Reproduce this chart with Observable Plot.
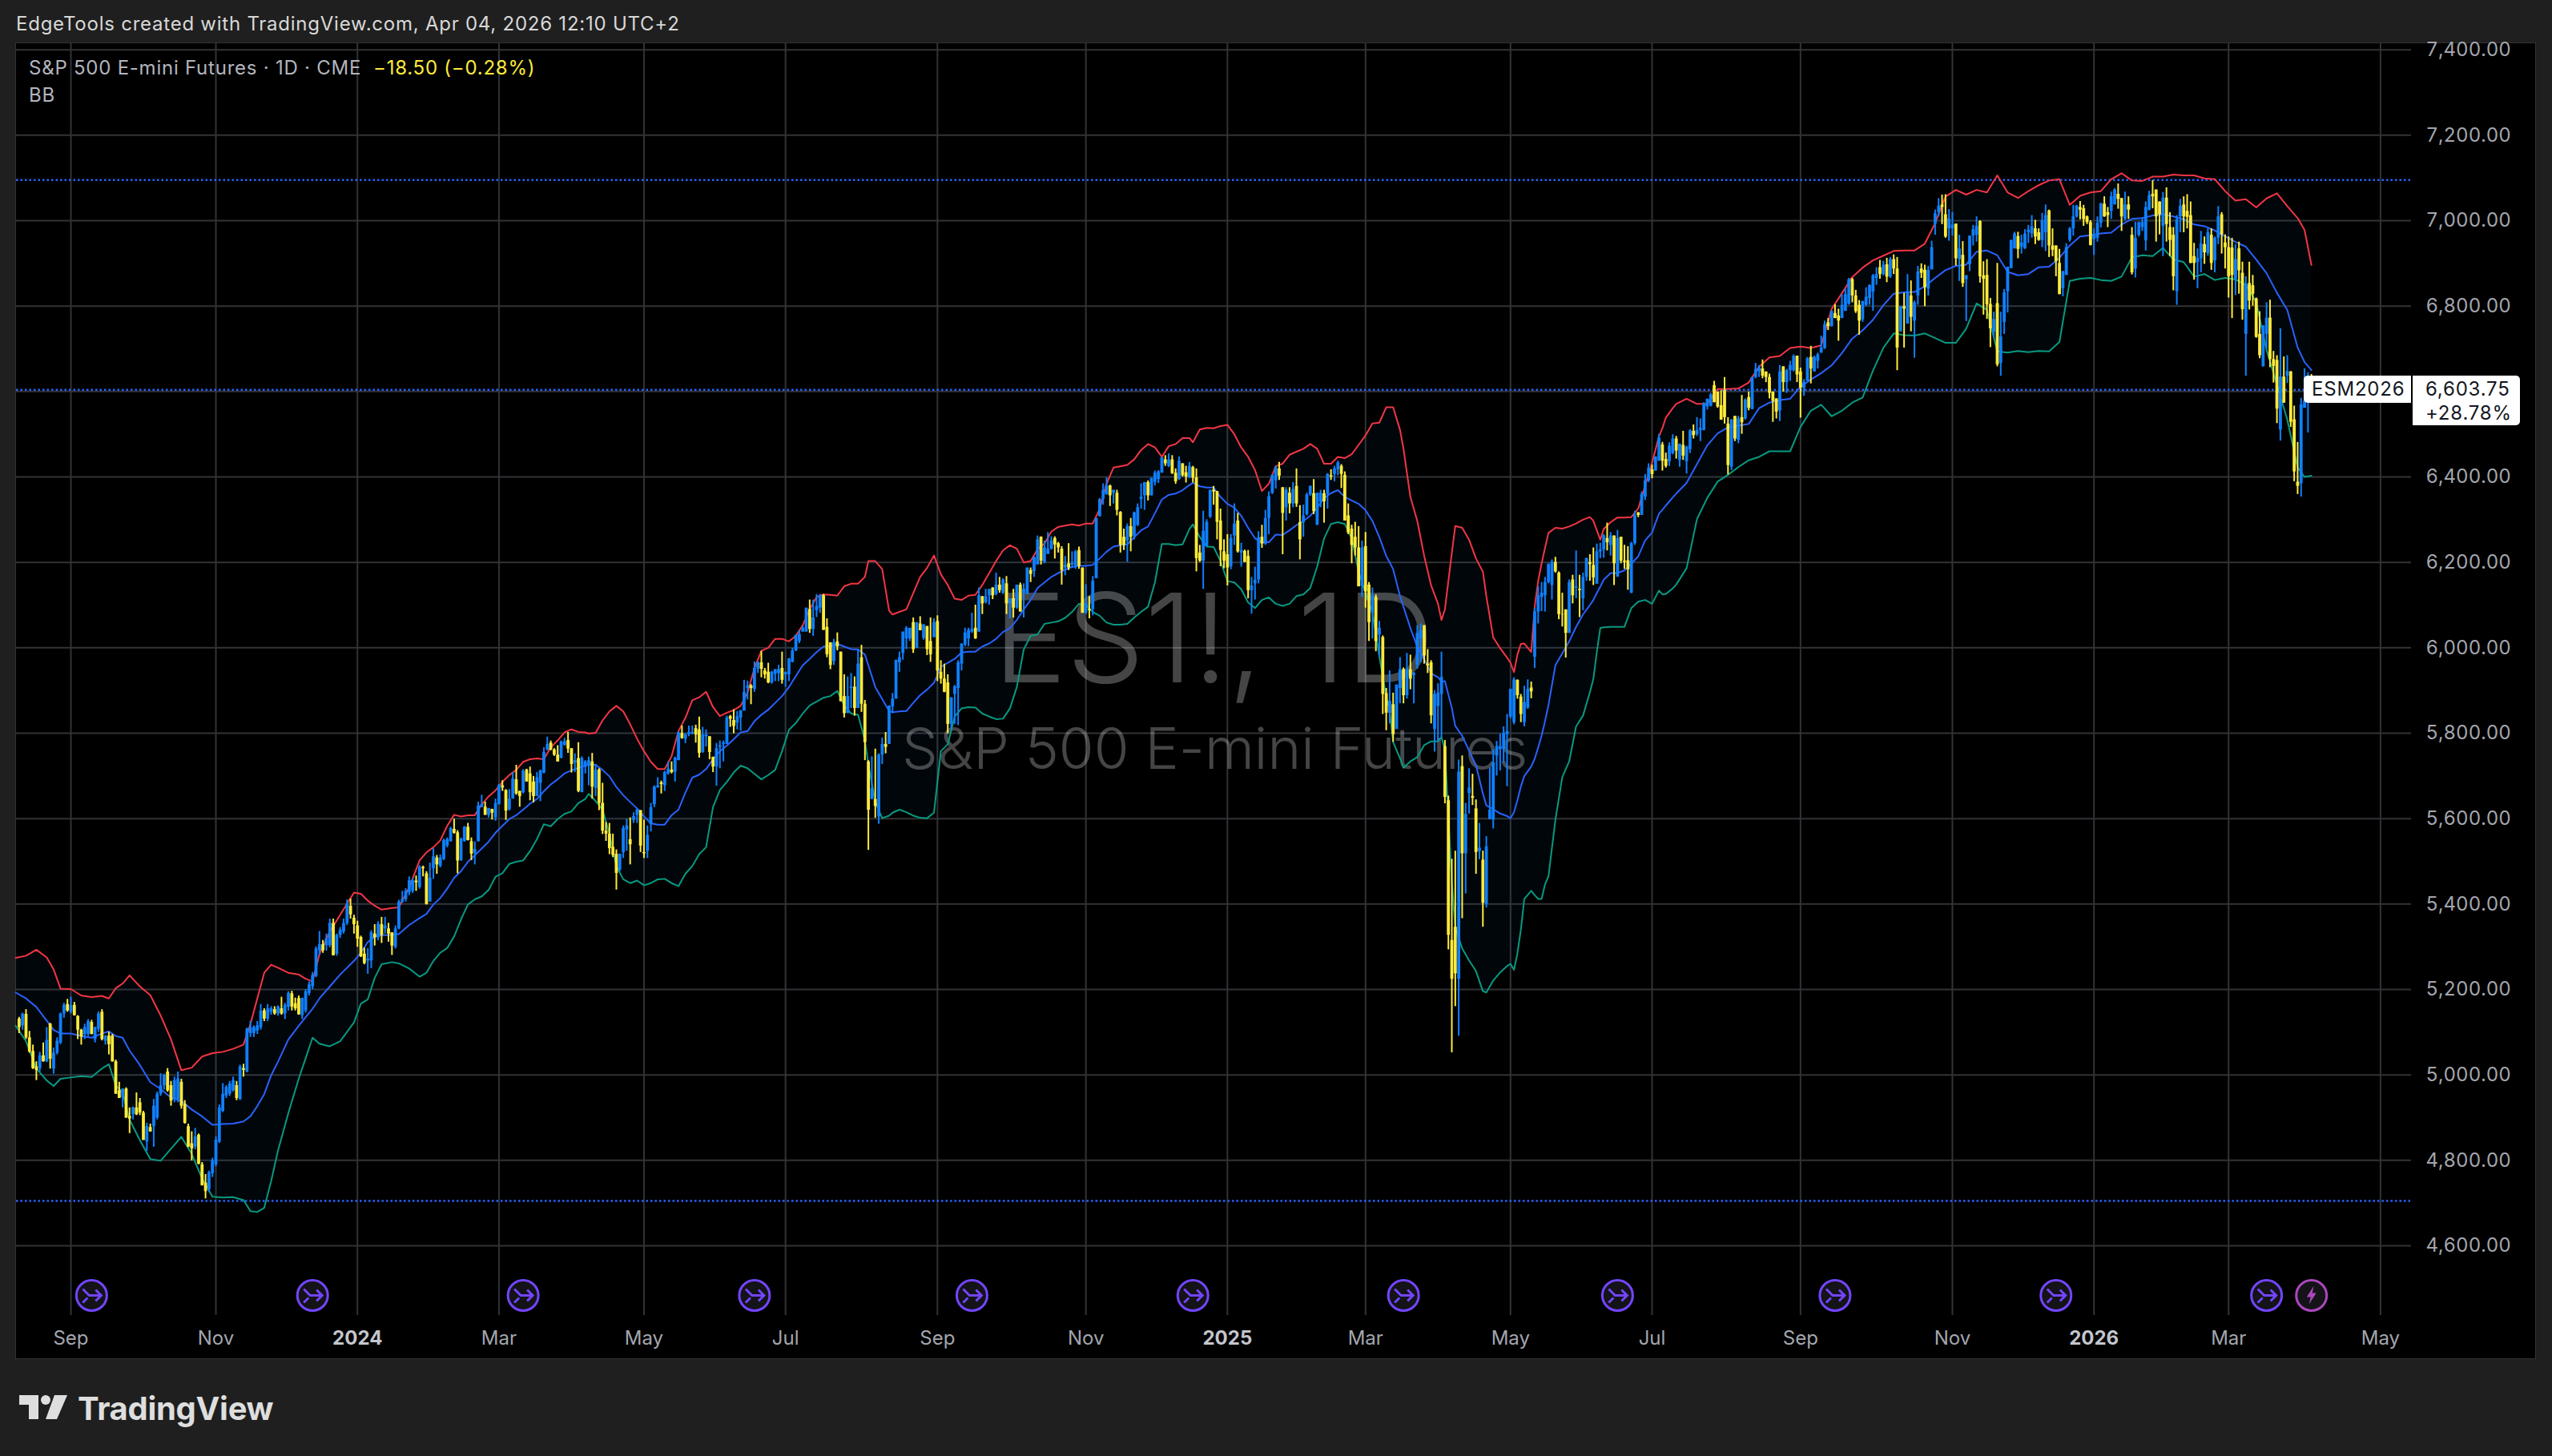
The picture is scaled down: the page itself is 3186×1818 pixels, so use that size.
<!DOCTYPE html>
<html>
<head>
<meta charset="utf-8">
<script src="https://cdn.jsdelivr.net/npm/d3@7"></script>
<script src="https://cdn.jsdelivr.net/npm/@observablehq/plot@0.6"></script>
<style>
html,body{margin:0;padding:0;background:#1f1f1f;width:3186px;height:1818px;overflow:hidden;font-family:Inter,"Liberation Sans",sans-serif}
#stage{position:relative;width:3186px;height:1818px}
#panel{position:absolute;left:19px;top:53px;width:3147px;height:1644px;background:#000;border:1px solid #333;box-sizing:border-box}
#chart{position:absolute;left:0;top:0}
.t{position:absolute;white-space:nowrap;font-size:24px;line-height:30px;letter-spacing:.76px}
.box{position:absolute;background:#fff;color:#131722;font-size:24px;line-height:29.5px;letter-spacing:.8px;box-sizing:border-box}
</style>
</head>
<body>
<div id="stage">
  <div id="panel"></div>
  <div id="chart"></div>
  <div class="t" style="left:20px;top:15px;color:#d8d8d8">EdgeTools created with TradingView.com, Apr 04, 2026 12:10 UTC+2</div>
  <div class="t" style="left:36px;top:70px;color:#b2b5be">S&amp;P 500 E-mini Futures · 1D · CME</div>
  <div class="t" style="left:466px;top:70px;color:#ffeb3b">−18.50 (−0.28%)</div>
  <div class="t" style="left:36px;top:104px;color:#b2b5be">BB</div>
  <div class="box" style="left:2876px;top:469px;width:134px;height:34px;border-radius:5px 0 0 5px;padding:2px 0 0 10px">ESM2026</div>
  <div class="box" style="left:3012px;top:469px;width:134px;height:62px;border-radius:0 5px 5px 0;padding:2px 0 0 16px">6,603.75<br>+28.78%</div>
  <svg style="position:absolute;left:24px;top:1742px" width="62" height="31" viewBox="0 0 62 31"><path fill="#dedede" d="M0 0H24V30H12V12H0ZM44 0H60L47 30H33Z"/><circle fill="#dedede" cx="33" cy="6" r="6"/></svg>
  <div class="t" style="left:97px;top:1735px;font-size:40px;line-height:48px;font-weight:700;color:#dedede;letter-spacing:-0.3px">TradingView</div>
</div>
<script>
// ---- Candles: [open, high, low, close], each list starts at the given trading-day index
const barsStart2023 = -15;
const bars2023 = [
[5131,5135,5097,5111],[5115,5145,5105,5142],[5142,5153,5083,5087],[5087,5102,5051,5054],[5055,5070,5013,5015],[5019,5031,4987,5011],[5015,5053,5007,5045],[5045,5075,5030,5031],[5031,5111,5029,5081],[5119,5121,5014,5037],[5014,5063,5002,5051],[5051,5087,5047,5079],[5075,5145,5071,5143],[5143,5168,5133,5163],[5165,5177,5147,5150],
[5147,5182,5143,5163],[5163,5170,5138,5139],[5137,5139,5083,5105],[5105,5107,5070,5089],[5094,5119,5083,5111],[5095,5130,5090,5125],[5123,5128,5094,5095],[5083,5112,5075,5111],[5107,5148,5100,5143],[5147,5153,5080,5083],[5079,5092,5070,5091],[5091,5100,5047,5071],[5091,5095,5030,5031],[5031,5035,4955,4955],[4963,4983,4945,4945],[4947,4967,4923,4967],[4967,4970,4899,4899],[4903,4923,4863,4897],[4907,4925,4895,4923],[4923,4958,4905,4907],[4935,4945,4905,4911],[4911,4915,4847,4847],[4843,4887,4821,4879],[4877,4885,4866,4867],[4879,4943,4831,4927],[4899,4960,4895,4955],[4955,5003,4950,4975],[4975,5002,4965,4999],[5007,5015,4960,4963],[4975,4985,4927,4939],[4943,4995,4935,4987],[4943,5007,4935,4991],[4983,4990,4920,4927],[4931,4940,4885,4887],[4879,4885,4830,4831],[4839,4867,4799,4827],[4831,4875,4825,4855],[4859,4862,4790,4791],[4790,4795,4740,4741],[4747,4767,4710,4727],[4731,4775,4725,4771],[4769,4805,4760,4799],[4790,4855,4785,4847],[4843,4930,4840,4923],[4915,4980,4912,4955],[4951,4975,4945,4971],[4955,4985,4950,4979],[4963,4995,4960,4987],[4975,4985,4940,4945],[4943,5023,4940,5019],[5015,5025,4995,5011],[5007,5110,5005,5107],[5097,5126,5088,5111],[5097,5115,5088,5111],[5103,5125,5095,5115],[5111,5165,5105,5150],[5150,5155,5125,5131],[5131,5165,5125,5155],[5147,5160,5140,5155],[5153,5160,5140,5143],[5143,5162,5138,5159],[5155,5182,5140,5143],[5143,5168,5130,5163],[5159,5195,5150,5191],[5190,5196,5150,5159],[5167,5180,5150,5155],[5179,5185,5140,5141],[5139,5180,5130,5179],[5150,5200,5145,5195],[5191,5218,5185,5211],[5207,5240,5200,5233],[5231,5300,5228,5295],[5291,5336,5280,5305],[5305,5315,5285,5291],[5303,5330,5290,5319],[5303,5365,5298,5355],[5355,5365,5280,5279],[5283,5330,5278,5327],[5327,5345,5320,5339],[5335,5365,5330,5355],[5355,5410,5350,5400],[5395,5412,5365,5375]];

const barsStart2024a = 82;
const bars2024a = [
[5367,5374,5330,5352],[5349,5360,5299,5318],[5322,5325,5275,5277],[5283,5297,5258,5261],[5267,5296,5236,5271],[5267,5338,5249,5333],[5330,5352,5302,5321],[5321,5359,5314,5353],[5352,5369,5308,5327],[5342,5369,5330,5349],[5342,5355,5311,5330],[5333,5333,5280,5302],[5299,5349,5295,5342],[5342,5409,5340,5405],[5405,5430,5402,5411],[5411,5436,5405,5430],[5427,5464,5420,5455],[5430,5460,5425,5455],[5454,5466,5430,5450],[5439,5490,5435,5486],[5486,5489,5464,5483],[5471,5476,5398,5399],[5405,5496,5405,5461],[5483,5530,5458,5511],[5508,5514,5470,5492],[5489,5515,5485,5508],[5505,5552,5502,5549],[5536,5555,5532,5551],[5546,5580,5546,5577],[5575,5599,5564,5566],[5567,5572,5471,5501],[5502,5555,5500,5552],[5547,5582,5545,5580],[5580,5589,5548,5549],[5546,5555,5502,5517],[5519,5546,5492,5528],[5546,5639,5546,5630],[5626,5655,5626,5633],[5627,5639,5608,5608],[5608,5624,5602,5624],[5622,5622,5597,5613],[5602,5646,5594,5636],[5633,5680,5632,5678],[5677,5689,5664,5672],[5666,5668,5596,5618],[5621,5668,5618,5646],[5646,5708,5646,5693],[5691,5725,5655,5658],[5664,5664,5627,5652],[5661,5715,5658,5711],[5714,5716,5686,5686],[5705,5721,5642,5661],[5686,5699,5637,5652],[5652,5708,5652,5696],[5683,5714,5640,5712],[5707,5766,5705,5755],[5761,5791,5759,5774],[5777,5782,5759,5761],[5761,5764,5746,5749],[5749,5771,5733,5733],[5741,5782,5741,5780],[5772,5788,5770,5780],[5783,5802,5753,5763],[5764,5764,5707,5727],[5730,5752,5708,5736],[5741,5778,5661,5664],[5661,5745,5661,5741],[5721,5736,5705,5733],[5724,5744,5677,5736],[5733,5753,5646,5674],[5671,5727,5652,5714],[5714,5717,5619,5636],[5636,5683,5563,5571],[5571,5591,5547,5564],[5564,5589,5516,5530],[5533,5564,5509,5514],[5517,5527,5433,5472],[5480,5517,5476,5517],[5521,5583,5507,5577],[5574,5599,5524,5583],[5551,5602,5492,5539],[5596,5614,5589,5605],[5608,5622,5589,5621],[5619,5619,5521,5536],[5521,5597,5507,5518],[5524,5583,5507,5561],[5586,5636,5569,5626],[5633,5677,5626,5674],[5672,5696,5672,5677],[5684,5688,5658,5680],[5677,5711,5664,5708],[5705,5733,5702,5716],[5714,5733,5705,5708],[5709,5744,5686,5742],[5736,5803,5736,5801],[5800,5817,5786,5788],[5786,5799,5776,5797],[5797,5817,5792,5802],[5799,5817,5796,5802],[5811,5819,5777,5796],[5808,5838,5742,5753],[5755,5814,5753,5796],[5792,5808,5768,5796],[5792,5792,5738,5755],[5744,5744,5708,5721],[5721,5776,5676,5764],[5767,5782,5717,5771],[5774,5782,5733,5777],[5774,5840,5774,5836],[5839,5842,5814,5833],[5830,5855,5799,5816],[5824,5851,5808,5839],[5836,5853,5805,5853],[5852,5924,5852,5896],[5905,5922,5878,5911],[5911,5914,5867,5905]];

const barsStart2024b = 198;
const bars2024b = [
[5903,5967,5896,5952],[5950,5967,5940,5965],[5965,5992,5930,5950],[5946,5952,5927,5937],[5943,5964,5916,5918],[5918,5945,5915,5943],[5938,5949,5921,5949],[5940,5959,5921,5949],[5952,5990,5915,5924],[5937,5943,5908,5943],[5937,5975,5921,5974],[5966,5999,5965,5993],[5993,6031,5991,6029],[6015,6040,6010,6031],[6037,6050,6037,6046],[6037,6093,6037,6093],[6090,6112,6034,6043],[6043,6112,6027,6070],[6087,6125,6071,6097],[6093,6125,6081,6122],[6122,6125,6041,6041],[6048,6068,5977,5984],[6012,6012,5949,5959],[5968,6020,5959,6012],[6014,6035,5993,6002],[5990,5990,5874,5874],[5886,5937,5836,5846],[5846,5932,5850,5886],[5905,5940,5858,5908],[5908,5932,5840,5858],[5858,5996,5858,5962],[5977,6006,5849,5868],[5868,5877,5736,5778],[5733,5736,5526,5620],[5645,5745,5645,5670],[5645,5763,5601,5629],[5604,5752,5587,5749],[5749,5789,5727,5774],[5774,5802,5752,5767],[5774,5864,5774,5864],[5862,5893,5846,5880],[5880,5971,5880,5971],[5965,5990,5943,5977],[5987,6037,5971,6037],[6021,6050,5996,6046],[6021,6046,6015,6046],[6059,6070,5987,5996],[5999,6059,5999,6059],[6056,6073,6040,6040],[6022,6054,6018,6054],[6050,6050,5982,5996],[6015,6070,5966,5984],[6024,6068,6024,6059],[6062,6075,5921,5946],[5943,5970,5915,5927],[5927,5962,5895,5896],[5918,5937,5799,5821],[5821,5883,5808,5883],[5891,5912,5821,5909],[5905,5970,5818,5965],[5962,6009,5946,6009],[6007,6046,6003,6035],[6021,6046,6003,6041],[6037,6081,6034,6043],[6046,6100,6020,6021],[6037,6140,6037,6122],[6120,6120,6078,6103],[6106,6137,6103,6120],[6122,6137,6100,6137],[6140,6141,6113,6122],[6125,6175,6122,6147],[6147,6165,6128,6134],[6128,6162,6125,6159],[6150,6167,6078,6103],[6103,6115,6068,6115],[6115,6137,6070,6093],[6093,6147,6090,6147],[6147,6152,6084,6084],[6128,6150,6070,6137],[6125,6187,6125,6187],[6181,6187,6153,6172],[6179,6212,6165,6212],[6194,6262,6194,6253],[6259,6260,6194,6203],[6200,6250,6197,6234],[6219,6270,6219,6231],[6231,6260,6229,6250],[6256,6260,6208,6241],[6244,6247,6222,6234],[6231,6237,6147,6181],[6187,6214,6169,6194],[6197,6244,6181,6187],[6194,6225,6186,6198],[6191,6228,6184,6225],[6228,6236,6184,6191],[6187,6187,6081,6081],[6081,6148,6078,6103],[6090,6120,6068,6087],[6090,6167,6075,6156],[6162,6303,6162,6303]];

const barsStart2025a = 298;
const bars2025a = [
[6307,6350,6307,6347],[6348,6384,6334,6369],[6358,6398,6358,6379],[6379,6381,6331,6356],[6362,6369,6337,6369],[6362,6369,6309,6322],[6317,6319,6222,6240],[6259,6278,6228,6240],[6250,6290,6200,6284],[6284,6303,6225,6259],[6262,6318,6253,6316],[6287,6337,6284,6328],[6347,6384,6325,6353],[6356,6387,6322,6387],[6387,6391,6344,6356],[6356,6397,6356,6397],[6387,6414,6379,6409],[6394,6415,6385,6412],[6409,6446,6409,6445],[6440,6450,6425,6431],[6425,6454,6422,6440],[6440,6450,6406,6408],[6409,6419,6383,6389],[6394,6447,6392,6437],[6431,6431,6400,6403],[6410,6425,6386,6400],[6398,6434,6396,6425],[6422,6425,6386,6397],[6398,6419,6178,6209],[6222,6240,6200,6203],[6203,6320,6137,6273],[6237,6300,6237,6294],[6306,6369,6303,6369],[6369,6378,6334,6365],[6366,6366,6253,6294],[6297,6325,6190,6228],[6225,6253,6185,6203],[6218,6265,6145,6187],[6190,6265,6183,6256],[6262,6337,6240,6290],[6297,6315,6222,6225],[6222,6245,6189,6228],[6226,6229,6200,6200],[6214,6228,6115,6134],[6134,6165,6079,6145],[6150,6189,6112,6158],[6159,6272,6150,6258],[6259,6287,6233,6243],[6243,6322,6240,6303],[6303,6365,6265,6354],[6362,6406,6359,6403],[6391,6425,6372,6422],[6419,6434,6392,6402],[6375,6375,6218,6315],[6328,6375,6297,6369],[6362,6375,6314,6337],[6337,6387,6328,6371],[6378,6419,6329,6337],[6293,6333,6206,6253],[6293,6334,6259,6309],[6312,6362,6309,6358],[6358,6379,6355,6378],[6361,6394,6312,6319],[6287,6362,6287,6362],[6341,6369,6328,6362],[6361,6369,6292,6342],[6360,6408,6325,6406],[6403,6417,6392,6400],[6406,6425,6389,6419],[6417,6437,6403,6433],[6425,6429,6373,6406],[6404,6412,6297,6297],[6309,6337,6265,6269],[6278,6287,6197,6240],[6259,6294,6215,6234],[6234,6284,6143,6143],[6144,6250,6118,6234],[6237,6270,6093,6131],[6147,6153,6015,6059],[6081,6140,6021,6122],[6118,6124,5991,6015],[6030,6062,5977,6046],[6024,6028,5844,5891]];

const barsStart2025b = 381;
const bars2025b = [
[5893,5905,5806,5847],[5847,5946,5822,5875],[5867,5894,5779,5797],[5809,5913,5809,5913],[5905,5977,5869,5949],[5949,5953,5869,5888],[5888,5987,5880,5949],[5949,5983,5902,5927],[5935,5943,5869,5940],[5959,6052,5950,6034],[6021,6056,5965,6040],[6052,6052,5962,5981],[5962,5996,5940,5958],[5965,5970,5822,5841],[5809,5900,5756,5891],[5863,5916,5781,5894],[5891,5990,5790,5931],[5769,5783,5635,5650],[5642,5653,5293,5327],[5315,5505,5052,5224],[5346,5524,5160,5237],[5224,5737,5091,5709],[5722,5747,5366,5518],[5518,5636,5424,5610],[5659,5717,5611,5672],[5652,5704,5631,5648],[5623,5644,5470,5521],[5523,5589,5504,5531],[5503,5524,5346,5402],[5399,5558,5391,5534],[5598,5719,5598,5620],[5597,5761,5576,5731],[5747,5781,5700,5769],[5762,5798,5712,5769],[5762,5815,5731,5800],[5797,5844,5675,5804],[5838,5903,5834,5903],[5825,5930,5820,5925],[5924,5925,5880,5888],[5885,5891,5825,5844],[5825,5910,5815,5872],[5859,5925,5856,5903],[5906,5920,5881,5897],[5978,6093,5952,6084],[6084,6143,6056,6122],[6118,6153,6085,6128],[6122,6165,6084,6153],[6153,6197,6150,6195],[6146,6206,6112,6200],[6200,6212,6175,6178],[6175,6178,6066,6078],[6078,6128,6049,6077],[6089,6089,5976,6034],[6034,6159,6034,6153],[6159,6170,6103,6122],[6140,6227,6115,6143],[6137,6170,6071,6134],[6115,6175,6087,6165],[6165,6210,6156,6209],[6200,6218,6156,6195],[6193,6234,6146,6164],[6149,6243,6149,6225],[6225,6245,6209,6229],[6229,6265,6210,6262],[6256,6292,6227,6246],[6240,6270,6215,6262],[6262,6262,6146,6197],[6166,6275,6165,6256],[6259,6259,6197,6203],[6203,6240,6184,6200],[6204,6237,6135,6183],[6128,6247,6127,6244],[6244,6320,6240,6311],[6316,6317,6305,6310],[6310,6365,6310,6359],[6353,6406,6345,6391],[6391,6431,6387,6421],[6417,6428,6396,6406],[6414,6447,6414,6447],[6437,6500,6437,6491],[6475,6481,6414,6437],[6441,6456,6421,6425]];

const barsStart2025c = 463;
const bars2025c = [
[6436,6480,6425,6472],[6455,6499,6452,6489],[6489,6495,6442,6461],[6439,6477,6423,6477],[6474,6507,6439,6449],[6436,6472,6407,6470],[6464,6511,6455,6508],[6507,6522,6489,6497],[6499,6539,6495,6509],[6509,6536,6483,6514],[6509,6574,6508,6571],[6564,6583,6557,6582],[6566,6596,6564,6592],[6614,6624,6574,6574],[6599,6599,6561,6564],[6567,6602,6533,6533],[6602,6633,6524,6539],[6524,6539,6405,6427],[6423,6534,6415,6534],[6542,6542,6483,6489],[6486,6542,6478,6536],[6539,6591,6500,6527],[6536,6583,6533,6580],[6586,6599,6555,6561],[6558,6633,6558,6633],[6633,6666,6630,6652],[6646,6661,6633,6655],[6653,6674,6630,6636],[6646,6646,6621,6633],[6633,6641,6583,6596],[6599,6599,6528,6577],[6583,6583,6536,6552],[6555,6661,6530,6646],[6658,6658,6599,6621],[6621,6652,6596,6649],[6649,6671,6624,6661],[6649,6686,6646,6682],[6683,6683,6621,6639],[6646,6655,6538,6608],[6608,6628,6589,6621],[6624,6680,6624,6677],[6680,6706,6618,6653],[6646,6683,6646,6680],[6671,6690,6653,6686],[6690,6730,6690,6702],[6701,6765,6699,6757],[6761,6771,6743,6752],[6752,6788,6751,6788],[6783,6803,6771,6771],[6777,6793,6718,6765],[6771,6827,6771,6802],[6788,6840,6788,6827],[6805,6865,6802,6862],[6862,6865,6808,6824],[6824,6837,6783,6787],[6802,6813,6732,6765],[6768,6811,6762,6811],[6802,6843,6799,6821],[6818,6849,6802,6849],[6833,6874,6788,6871],[6865,6890,6849,6874],[6890,6907,6863,6874],[6874,6905,6871,6896],[6897,6912,6855,6868],[6868,6914,6865,6909],[6909,6920,6874,6887],[6887,6914,6649,6702],[6740,6799,6740,6799],[6799,6830,6702,6793],[6758,6874,6758,6833],[6824,6859,6740,6774],[6765,6812,6678,6808],[6824,6893,6802,6880],[6887,6899,6865,6877],[6884,6896,6799,6843],[6840,6893,6824,6884],[6885,6952,6885,6937]];

const barsStart2026 = 540;
const bars2026 = [
[6992,7025,6966,7016],[7019,7052,7009,7034],[7037,7060,6991,7031],[7014,7061,6959,6962],[6981,7026,6952,7004],[6981,7019,6964,6990],[6992,6992,6894,6911],[6909,6966,6858,6934],[6919,6951,6844,6853],[6862,6872,6764,6871],[6897,6964,6881,6964],[6964,6989,6941,6979],[6966,7009,6950,6987],[6998,7000,6854,6869],[6871,6904,6779,6863],[6872,6909,6769,6803],[6804,6818,6703,6747],[6739,6786,6724,6769],[6806,6900,6658,6663],[6666,6786,6636,6728],[6762,6839,6734,6831],[6834,6891,6784,6891],[6888,6954,6888,6954],[6934,6973,6934,6969],[6963,6973,6911,6933],[6938,6966,6922,6948],[6934,6979,6933,6969],[6972,6989,6947,6978],[6969,7012,6959,6986],[6981,7001,6944,6962],[6972,6981,6952,6954],[6953,7017,6937,7000],[6972,7037,6928,7012],[7023,7025,6914,6941],[6941,6981,6916,6931],[6941,6941,6869,6904],[6900,6933,6827,6827],[6841,6881,6822,6881],[6872,6946,6872,6937],[6954,6984,6950,6981],[6981,7036,6964,7009],[7009,7036,7006,7034],[7031,7045,7002,7025],[7028,7036,6987,7003],[7009,7011,6991,6996],[6996,7000,6941,6942],[6956,6981,6919,6967],[6959,7009,6950,6994],[6994,7041,6983,7039],[7039,7056,7008,7009],[7019,7031,6984,7012],[7022,7067,7003,7056],[7037,7075,7037,7072],[7062,7086,7027,7050],[7052,7052,6975,7009],[7003,7067,7000,7037],[7037,7056,7003,7025],[6966,6984,6873,6878],[6887,6996,6866,6959],[6966,6996,6962,6996],[6984,7006,6975,6996],[6953,7044,6929,7031],[7025,7069,7023,7059],[7062,7094,7028,7056],[7072,7072,6950,7009],[7044,7044,6967,7014],[6987,7066,6916,7053],[7053,7077,6950,6991],[6984,7019,6916,6954],[6966,6984,6836,6869],[6834,7012,6802,7003],[7009,7050,6972,7034],[7037,7056,6972,7009],[7022,7061,6981,7008],[7012,7044,6900,6900],[6916,6947,6861,6900],[6902,6934,6841,6912],[6911,6975,6878,6946],[6944,6962,6898,6925],[6923,6981,6917,6972],[6966,6981,6884,6900],[6906,6962,6878,6959],[6959,7033,6944,7009],[7014,7019,6922,6967],[6948,6967,6887,6937],[6937,6962,6819,6869],[6936,6959,6771,6872],[6862,6944,6825,6909],[6934,6950,6828,6883],[6877,6903,6767,6792],[6734,6869,6636,6852],[6853,6903,6791,6812],[6848,6872,6800,6828],[6817,6819,6725,6727],[6734,6787,6677,6684],[6658,6754,6658,6754],[6734,6808,6700,6772],[6772,6814,6656,6675],[6675,6694,6620,6659],[6673,6684,6525,6559],[6510,6747,6484,6634],[6634,6681,6573,6573],[6636,6684,6619,6647],[6646,6647,6516,6528],[6534,6566,6389,6412],[6388,6481,6359,6378],[6384,6584,6353,6569],[6561,6653,6561,6578],[6590,6644,6503,6622.25],[6620,6640,6600,6603.75]];

// ---- Bollinger bands: [day index, upper, basis, lower]
const bollinger = [
[-16,5274,5193,5115],[-13,5279,5179,5079],[-10,5293,5159,5015],[-7,5275,5127,4987],[-5,5247,5105,4974],[-3,5202,5097,4991],[0,5201,5097,4994],[3,5186,5091,4997],[6,5182,5087,4995],[9,5185,5097,5015],[11,5179,5102,5025],[13,5203,5091,4975],[15,5214,5087,4959],[17,5233,5057,4895],[20,5207,5023,4847],[23,5187,4983,4803],[26,5139,4967,4799],[29,5083,4947,4827],[32,5011,4939,4855],[35,5017,4919,4815],[38,5043,4903,4758],[41,5051,4883,4715],[44,5054,4885,4713],[47,5061,4886,4714],[50,5071,4891,4707],[52,5119,4903,4681],[54,5179,4927,4679],[56,5239,4955,4689],[58,5258,4999,4751],[60,5251,5031,4823],[63,5239,5083,4911],[66,5235,5115,4991],[68,5225,5135,5039],[70,5219,5155,5087],[72,5283,5179,5073],[75,5335,5207,5067],[78,5375,5235,5079],[82,5427,5267,5123],[84,5424,5286,5167],[86,5408,5311,5177],[88,5396,5324,5227],[90,5387,5327,5259],[93,5391,5328,5264],[95,5392,5330,5261],[98,5439,5351,5249],[101,5502,5367,5230],[103,5521,5377,5239],[105,5533,5399,5267],[107,5549,5414,5286],[109,5583,5436,5297],[111,5609,5461,5324],[113,5605,5477,5364],[115,5608,5499,5399],[117,5608,5514,5411],[119,5633,5530,5418],[121,5652,5546,5433],[123,5666,5567,5464],[125,5686,5583,5472],[127,5702,5599,5494],[129,5714,5608,5499],[131,5733,5621,5502],[133,5739,5635,5524],[135,5741,5646,5552],[137,5739,5664,5587],[139,5767,5680,5582],[141,5783,5692,5599],[143,5802,5706,5611],[145,5809,5713,5617],[147,5803,5719,5636],[149,5802,5724,5646],[150,5799,5727,5658],[152,5801,5726,5641],[154,5830,5714,5621],[156,5851,5699,5564],[158,5864,5674,5489],[160,5851,5655,5458],[162,5821,5639,5449],[164,5787,5624,5455],[166,5758,5605,5444],[168,5733,5589,5449],[170,5716,5586,5458],[172,5716,5586,5459],[174,5746,5608,5449],[176,5805,5621,5442],[178,5836,5661,5471],[180,5877,5696,5489],[182,5884,5703,5517],[184,5897,5716,5533],[186,5861,5739,5627],[188,5840,5758,5667],[190,5848,5771,5686],[192,5854,5786,5708],[194,5864,5802,5724],[196,5895,5805,5718],
[198,5952,5828,5705],[200,5993,5843,5692],[202,6000,5855,5702],[204,6021,5871,5714],[206,6021,5887,5758],[208,6015,5908,5808],[210,6028,5934,5824],[212,6053,5959,5846],[214,6090,5974,5865],[216,6119,5990,5874],[218,6125,6003,5883],[220,6124,6004,5887],[222,6122,6009,5899],[224,6144,6003,5865],[226,6150,5997,5846],[228,6150,5996,5843],[230,6166,5984,5783],[231,6203,5959,5727],[233,6203,5908,5639],[235,6184,5880,5601],[237,6087,5852,5607],[238,6078,5849,5614],[240,6084,5851,5621],[242,6090,5852,5615],[244,6128,5871,5607],[246,6166,5889,5602],[248,6187,5902,5601],[250,6216,5918,5614],[252,6172,5955,5758],[254,6147,5965,5774],[256,6115,5974,5839],[258,6112,5989,5858],[260,6122,5991,5861],[262,6124,5991,5860],[264,6147,6003,5846],[266,6175,6010,5839],[268,6203,6021,5833],[270,6228,6037,5834],[272,6240,6046,5858],[274,6232,6065,5908],[276,6200,6090,5996],[278,6203,6112,6028],[280,6231,6140,6031],[282,6244,6153,6056],[284,6272,6166,6059],[286,6283,6175,6062],[288,6286,6183,6070],[290,6289,6189,6084],[292,6286,6192,6103],[294,6291,6192,6100],[296,6291,6194,6084],[298,6325,6209,6075],
[300,6384,6225,6059],[302,6422,6237,6054],[304,6425,6240,6054],[306,6428,6242,6056],[308,6441,6259,6071],[310,6463,6275,6084],[312,6477,6284,6096],[314,6469,6315,6153],[316,6447,6347,6243],[318,6472,6358,6243],[320,6477,6361,6240],[322,6491,6369,6242],[324,6491,6381,6278],[325,6481,6386,6289],[327,6511,6378,6259],[329,6515,6375,6237],[331,6514,6375,6236],[333,6519,6353,6203],[335,6522,6337,6156],[337,6500,6328,6153],[339,6469,6309,6137],[341,6447,6281,6106],[343,6416,6256,6093],[345,6367,6247,6112],[347,6384,6247,6118],[349,6425,6265,6103],[351,6431,6264,6098],[353,6452,6275,6103],[355,6459,6287,6121],[357,6466,6297,6125],[359,6477,6309,6140],[361,6466,6328,6190],[363,6431,6350,6256],[365,6431,6362,6290],[367,6447,6369,6294],[369,6444,6353,6290],[371,6453,6345,6256],[373,6475,6337,6178],[375,6497,6322,6128],[377,6525,6297,6084],[379,6527,6259,5980],[381,6563,6215,5885],[382,6563,6200,5853],[383,6563,6184,5779],[385,6510,6121,5741],[386,6466,6096,5719],[388,6353,6046,5734],[390,6297,6002,5744],[392,6215,5974,5772],[394,6146,5940,5781],[396,6103,5931,5781],[397,6065,5921,5791],[398,6090,5922,5760],[400,6222,5859,5453],[401,6285,5817,5346],[403,6281,5794,5296],[405,6253,5759,5268],[407,6209,5725,5243],[409,6178,5659,5196],[410,6121,5631,5193],[412,6024,5622,5221],[414,5999,5612,5240],[416,5977,5606,5255],[417,5965,5601,5260],[418,5943,5615,5246],[419,5984,5643,5284],[420,6009,5675,5340],[421,6010,5700,5412],[423,5990,5722,5431],[424,6096,5740,5421],[425,6156,5766,5412],[426,6197,5794,5412],[427,6234,5828,5446],[428,6269,5866,5465],[430,6281,5959,5597],[432,6279,5987,5697],[434,6284,6015,5734],[436,6291,6049,5816],[438,6300,6078,5841],[440,6306,6100,5896],[441,6297,6112,5927],[442,6275,6128,5990],[443,6253,6143,6046],[444,6278,6159,6048],[446,6294,6175,6049],[448,6305,6175,6049],[450,6305,6181,6049],[452,6306,6197,6093],[454,6326,6214,6108],[456,6380,6251,6112],[458,6433,6270,6103],[460,6495,6314,6134],[461,6514,6323,6125],[462,6539,6333,6126],[464,6561,6352,6139],[465,6571,6361,6148],[468,6583,6386,6186],[471,6571,6430,6301],[474,6571,6474,6351],[477,6606,6502,6389],[480,6606,6516,6405],[483,6607,6520,6423],[486,6621,6524,6439],[489,6658,6561,6447],[492,6680,6574,6460],[495,6683,6580,6460],[498,6702,6583,6460],[501,6705,6611,6517],[504,6702,6628,6555],[507,6708,6643,6569],[510,6793,6661,6542],[513,6830,6690,6555],[516,6868,6724,6574],[519,6890,6743,6586],[522,6907,6768,6649],[525,6918,6802,6702],[528,6929,6829,6736],[531,6930,6832,6732],[534,6930,6833,6731],[537,6946,6846,6736],
[540,6994,6866,6725],[543,7056,6884,6714],[546,7072,6894,6714],[549,7061,6897,6747],[552,7072,6927,6806],[555,7066,6930,6791],[558,7106,6919,6694],[561,7066,6880,6691],[564,7053,6872,6695],[567,7069,6875,6692],[570,7083,6891,6695],[573,7094,6892,6694],[576,7097,6913,6716],[579,7037,6942,6859],[582,7058,6963,6864],[585,7066,6966,6866],[588,7069,6970,6861],[591,7097,6972,6859],[594,7111,6991,6869],[597,7094,7004,6914],[600,7093,7006,6919],[603,7103,7012,6917],[606,7103,7015,6936],[609,7108,7010,6909],[612,7106,7003,6903],[615,7106,6991,6869],[618,7099,6987,6875],[621,7097,6977,6861],[624,7069,6963,6866],[627,7047,6950,6862],[630,7050,6939,6850],[633,7031,6909,6809],[636,7052,6877,6697],[639,7064,6831,6616],[642,7034,6791,6534],[645,7006,6703,6422],[647,6978,6669,6400],[649,6896,6650,6403]];

// ---- Axis values
const priceTicks = [7400,7200,7000,6800,6600,6400,6200,6000,5800,5600,5400,5200,5000,4800,4600];
const keyLevels = [7095,6603.75,4705];
const monthIndex = [0,42,124,166,207,251,294,375,417,458,501,545,625,669];
const monthLabels = ["Sep","Nov","Mar","May","Jul","Sep","Nov","Mar","May","Jul","Sep","Nov","Mar","May"];
const yearIndex = [83,335,586];
const yearLabels = ["2024","2025","2026"];
const splitEvents = [6,70,131,198,261,325,386,448,511,575,636];
const dividendEvents = [649];
const watermark = "ES1!, 1D";
const watermarkName = "S&P 500 E-mini Futures";

// ---- Assemble
const add = (start, rows) => rows.map((r, k) => ({i: start + k, o: r[0], h: r[1], l: r[2], c: r[3]}));
const candles = [
  ...add(barsStart2023, bars2023), ...add(barsStart2024a, bars2024a), ...add(barsStart2024b, bars2024b),
  ...add(barsStart2025a, bars2025a), ...add(barsStart2025b, bars2025b), ...add(barsStart2025c, bars2025c), ...add(barsStart2026, bars2026)
];
const rising = candles.filter(d => d.c >= d.o);
const falling = candles.filter(d => d.c < d.o);
const bands = bollinger.map(r => ({i: r[0], u: r[1], m: r[2], l: r[3]}));
const months = monthIndex.map((i, k) => ({i, t: monthLabels[k]}));
const years = yearIndex.map((i, k) => ({i, t: yearLabels[k]}));

const UP = "#0f80ff", DOWN = "#ffeb3b", GRID = "#323336", AXIS = "#a3a6ae";

const mergeIcon = {draw(ctx, size) {
  const s = Math.sqrt(size / Math.PI) / 19;
  const line = (pts) => { ctx.moveTo(pts[0][0]*s, pts[0][1]*s); for (const p of pts.slice(1)) ctx.lineTo(p[0]*s, p[1]*s); };
  line([[-11,-8],[-3,0],[12,0]]);
  line([[5,-7],[12,0],[5,7]]);
  line([[-11,9],[-5,3]]);
}};
const boltIcon = {draw(ctx, size) {
  const s = Math.sqrt(size / Math.PI) / 19;
  const pts = [[3,-12],[-6,2],[-1,2],[-3,11],[6,-3],[1,-3]];
  ctx.moveTo(pts[0][0]*s, pts[0][1]*s);
  for (const p of pts.slice(1)) ctx.lineTo(p[0]*s, p[1]*s);
  ctx.closePath();
}};

const chart = Plot.plot({
  width: 3186, height: 1818,
  marginLeft: 20, marginRight: 176, marginTop: 53, marginBottom: 176,
  style: {background: "transparent", fontFamily: "Inter, sans-serif", fontSize: "24px", overflow: "visible"},
  x: {type: "linear", domain: [(20 - 88) / 4.31, (3010 - 88) / 4.31], axis: null},
  y: {type: "linear", domain: [4436.9, 7416.25], axis: null},
  marks: [
    Plot.ruleX(monthIndex.concat(yearIndex), {stroke: GRID, strokeWidth: 2}),
    Plot.ruleY(priceTicks, {stroke: GRID, strokeWidth: 2}),
    Plot.axisY({anchor: "right", ticks: priceTicks, tickSize: 0, tickPadding: 18, label: null, color: AXIS, fontSize: 24,
      tickFormat: d => d3.format(",.2f")(d)}),
    Plot.text(months, {x: "i", text: "t", frameAnchor: "bottom", dy: 29, fill: AXIS, fontSize: 24, lineAnchor: "middle"}),
    Plot.text(years, {x: "i", text: "t", frameAnchor: "bottom", dy: 29, fill: "#c3c6cd", fontSize: 24, fontWeight: 700, lineAnchor: "middle"}),
    Plot.areaY(bands, {x: "i", y1: "l", y2: "u", fill: "#2196f3", fillOpacity: 0.045, curve: "linear"}),
    Plot.text([watermark], {frameAnchor: "middle", dy: -45, fontSize: 154, fill: "#ffffff", fillOpacity: 0.27, fontWeight: 300}),
    Plot.text([watermarkName], {frameAnchor: "middle", dy: 89, dx: 1, fontSize: 71, fill: "#ffffff", fillOpacity: 0.27, fontWeight: 300}),
    Plot.ruleY(keyLevels, {stroke: "#2962ff", strokeWidth: 2.5, strokeDasharray: "2.5 3"}),
    Plot.line(bands, {x: "i", y: "u", stroke: "#f23645", strokeWidth: 2, curve: "linear"}),
    Plot.line(bands, {x: "i", y: "m", stroke: "#2962ff", strokeWidth: 2, curve: "linear"}),
    Plot.line(bands, {x: "i", y: "l", stroke: "#089981", strokeWidth: 2, curve: "linear"}),
    Plot.ruleX(falling, {x: "i", y1: "l", y2: "h", stroke: DOWN, strokeWidth: 2}),
    Plot.ruleX(rising, {x: "i", y1: "l", y2: "h", stroke: UP, strokeWidth: 2}),
    Plot.ruleX(falling, {x: "i", y1: "o", y2: "c", stroke: DOWN, strokeWidth: 3.8}),
    Plot.ruleX(rising, {x: "i", y1: "o", y2: "c", stroke: UP, strokeWidth: 3.8}),
    Plot.dot(splitEvents, {x: d => d, frameAnchor: "bottom", dy: -25, r: 19, fill: "#131318", stroke: "#7345ff", strokeWidth: 3}),
    Plot.dot(splitEvents, {x: d => d, frameAnchor: "bottom", dy: -25, r: 19, symbol: mergeIcon, fill: "none", stroke: "#7345ff", strokeWidth: 3}),
    Plot.dot(dividendEvents, {x: d => d, frameAnchor: "bottom", dy: -25, r: 19, fill: "#131318", stroke: "#ab47bc", strokeWidth: 3}),
    Plot.dot(dividendEvents, {x: d => d, frameAnchor: "bottom", dy: -25, r: 19, symbol: boltIcon, fill: "#ab47bc", stroke: "none"})
  ]
});
document.getElementById("chart").appendChild(chart);
</script>
</body>
</html>
